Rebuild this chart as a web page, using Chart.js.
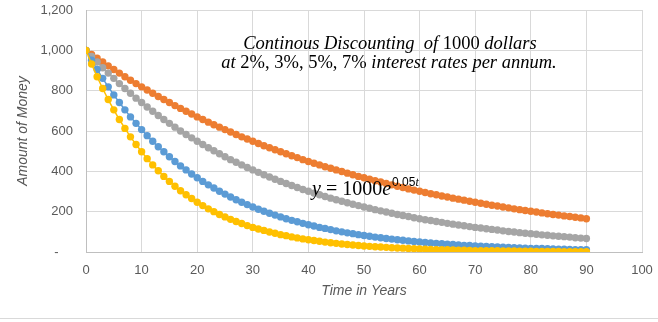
<!DOCTYPE html>
<html lang="en">
  <head>
    <meta charset="UTF-8" />
    <title>Continuous discounting</title>
    <script src="https://cdn.jsdelivr.net/npm/chart.js@4"></script>
    <style>
      body { margin: 0; background: #fff; }
    </style>
  </head>
  <body>
    <canvas id="myChart" width="658" height="322"></canvas>

    <script>
      const years = [
        0, 1, 2, 3, 4, 5, 6, 7, 8, 9,
        10, 11, 12, 13, 14, 15, 16, 17, 18, 19,
        20, 21, 22, 23, 24, 25, 26, 27, 28, 29,
        30, 31, 32, 33, 34, 35, 36, 37, 38, 39,
        40, 41, 42, 43, 44, 45, 46, 47, 48, 49,
        50, 51, 52, 53, 54, 55, 56, 57, 58, 59,
        60, 61, 62, 63, 64, 65, 66, 67, 68, 69,
        70, 71, 72, 73, 74, 75, 76, 77, 78, 79,
        80, 81, 82, 83, 84, 85, 86, 87, 88, 89,
        90
      ];
      const rate2 = [
        1000, 980, 961, 942, 923, 905, 887, 869, 852, 835,
        819, 803, 787, 771, 756, 741, 726, 712, 698, 684,
        670, 657, 644, 631, 619, 607, 595, 583, 571, 560,
        549, 538, 527, 517, 507, 497, 487, 477, 468, 458,
        449, 440, 432, 423, 415, 407, 399, 391, 383, 375,
        368, 361, 353, 347, 340, 333, 326, 320, 313, 307,
        301, 295, 289, 284, 278, 273, 267, 262, 257, 252,
        247, 242, 237, 232, 228, 223, 219, 214, 210, 206,
        202, 198, 194, 190, 186, 183, 179, 176, 172, 169,
        165
      ];
      const rate3 = [
        1000, 970, 942, 914, 887, 861, 835, 811, 787, 763,
        741, 719, 698, 677, 657, 638, 619, 600, 583, 566,
        549, 533, 517, 502, 487, 472, 458, 445, 432, 419,
        407, 395, 383, 372, 361, 350, 340, 330, 320, 310,
        301, 292, 284, 275, 267, 259, 252, 244, 237, 230,
        223, 217, 210, 204, 198, 192, 186, 181, 176, 170,
        165, 160, 156, 151, 147, 142, 138, 134, 130, 126,
        122, 119, 115, 112, 109, 105, 102, 99, 96, 93,
        91, 88, 85, 83, 80, 78, 76, 74, 71, 69,
        67
      ];
      const rate5 = [
        1000, 951, 905, 861, 819, 779, 741, 705, 670, 638,
        607, 577, 549, 522, 497, 472, 449, 427, 407, 387,
        368, 350, 333, 317, 301, 287, 273, 259, 247, 235,
        223, 212, 202, 192, 183, 174, 165, 157, 150, 142,
        135, 129, 122, 117, 111, 105, 100, 95, 91, 86,
        82, 78, 74, 71, 67, 64, 61, 58, 55, 52,
        50, 47, 45, 43, 41, 39, 37, 35, 33, 32,
        30, 29, 27, 26, 25, 24, 22, 21, 20, 19,
        18, 17, 17, 16, 15, 14, 14, 13, 12, 12,
        11
      ];
      const rate7 = [
        1000, 932, 869, 811, 756, 705, 657, 613, 571, 533,
        497, 463, 432, 403, 375, 350, 326, 304, 284, 265,
        247, 230, 214, 200, 186, 174, 162, 151, 141, 131,
        122, 114, 107, 99, 93, 86, 81, 75, 70, 65,
        61, 57, 53, 49, 46, 43, 40, 37, 35, 32,
        30, 28, 26, 25, 23, 21, 20, 19, 17, 16,
        15, 14, 13, 12, 11, 11, 10, 9, 9, 8,
        7, 7, 7, 6, 6, 5, 5, 5, 4, 4,
        4, 3, 3, 3, 3, 3, 2, 2, 2, 2,
        2
      ];
      const titleLine1 = [['Continous Discounting  of ', true], ['1000', false], [' dollars', true]];
      const titleLine2 = [['at ', true], ['2%, 3%, 5%, 7%', false], [' interest rates per annum.', true]];

      const points = vals => vals.map((v, i) => ({ x: years[i], y: v }));

      function series(label, vals, color, order) {
        return {
          label: label,
          data: points(vals),
          showLine: true,
          borderColor: color,
          backgroundColor: color,
          borderWidth: 1.5,
          pointRadius: 3.7,
          pointBorderWidth: 0,
          order: order
        };
      }

      // draws the text boxes Excel had floating on the plot
      const notes = {
        id: 'notes',
        afterDatasetsDraw(chart) {
          const ctx = chart.ctx;
          ctx.save();
          ctx.fillStyle = '#000';
          ctx.textBaseline = 'alphabetic';
          const runs = (parts, cx, y, size) => {
            const fonts = parts.map(p => (p[1] ? 'italic ' : '') + size + 'px "Liberation Serif"');
            let w = 0;
            parts.forEach((p, i) => { ctx.font = fonts[i]; w += ctx.measureText(p[0]).width; });
            let x = cx - w / 2;
            ctx.textAlign = 'left';
            parts.forEach((p, i) => {
              ctx.font = fonts[i];
              ctx.fillText(p[0], x, y);
              x += ctx.measureText(p[0]).width;
            });
          };
          runs(titleLine1, 390, 49, 18.5);
          runs(titleLine2, 389, 68, 18.5);

          // y = 1000e^0.05t
          let x = 312;
          const y = 195;
          ctx.textAlign = 'left';
          ctx.font = 'italic 20px "Liberation Serif"';
          ctx.fillText('y', x, y);
          x += ctx.measureText('y ').width;
          ctx.font = '20px "Liberation Serif"';
          ctx.fillText('= 1000', x, y);
          x += ctx.measureText('= 1000').width;
          ctx.font = 'italic 20px "Liberation Serif"';
          ctx.fillText('e', x, y);
          x += ctx.measureText('e').width;
          ctx.font = '12px "Liberation Sans"';
          ctx.fillText('0.05', x + 1, y - 9);
          x += ctx.measureText('0.05').width + 1;
          ctx.font = 'italic 12px "Liberation Serif"';
          ctx.fillText('t', x, y - 9);

          // chart border line at bottom
          ctx.strokeStyle = '#d9d9d9';
          ctx.lineWidth = 1;
          ctx.beginPath();
          ctx.moveTo(0, 318.5);
          ctx.lineTo(658, 318.5);
          ctx.stroke();
          ctx.restore();
        }
      };

      const ctx = document.getElementById('myChart').getContext('2d');
      const myChart = new Chart(ctx, {
        type: 'scatter',
        data: {
          datasets: [
            series('2%', rate2, '#ED7D31', 4),
            series('3%', rate3, '#A5A5A5', 3),
            series('5%', rate5, '#5B9BD5', 2),
            series('7%', rate7, '#FFC000', 1)
          ]
        },
        options: {
          responsive: false,
          animation: false,
          layout: { padding: { left: 11, right: 16, top: 10, bottom: 18 } },
          plugins: {
            legend: { display: false },
            tooltip: { enabled: false }
          },
          scales: {
            x: {
              type: 'linear',
              min: 0,
              max: 100,
              ticks: {
                stepSize: 10,
                padding: 11,
                color: '#595959',
                font: { family: 'Liberation Sans', size: 13 }
              },
              grid: { color: '#d9d9d9', drawTicks: false },
              border: { color: '#bfbfbf' },
              title: {
                display: true,
                text: 'Time in Years',
                color: '#595959',
                font: { family: 'Liberation Sans', size: 14, style: 'italic' }
              },
              afterFit: s => {
                s.height = 52;
                s.paddingLeft = 0;
                s.paddingRight = 0;
              }
            },
            y: {
              min: 0,
              max: 1200,
              ticks: {
                stepSize: 200,
                padding: 13,
                color: '#595959',
                font: { family: 'Liberation Sans', size: 13 },
                callback: v => (v === 0 ? '-    ' : v.toLocaleString('en-US'))
              },
              grid: { color: '#d9d9d9', drawTicks: false },
              border: { color: '#bfbfbf' },
              title: {
                display: true,
                text: 'Amount of Money',
                color: '#595959',
                font: { family: 'Liberation Sans', size: 14, style: 'italic' }
              },
              afterFit: s => {
                s.width = 75;
                s.paddingTop = 0;
                s.paddingBottom = 0;
              }
            }
          }
        },
        plugins: [notes]
      });
    </script>
  </body>
</html>
